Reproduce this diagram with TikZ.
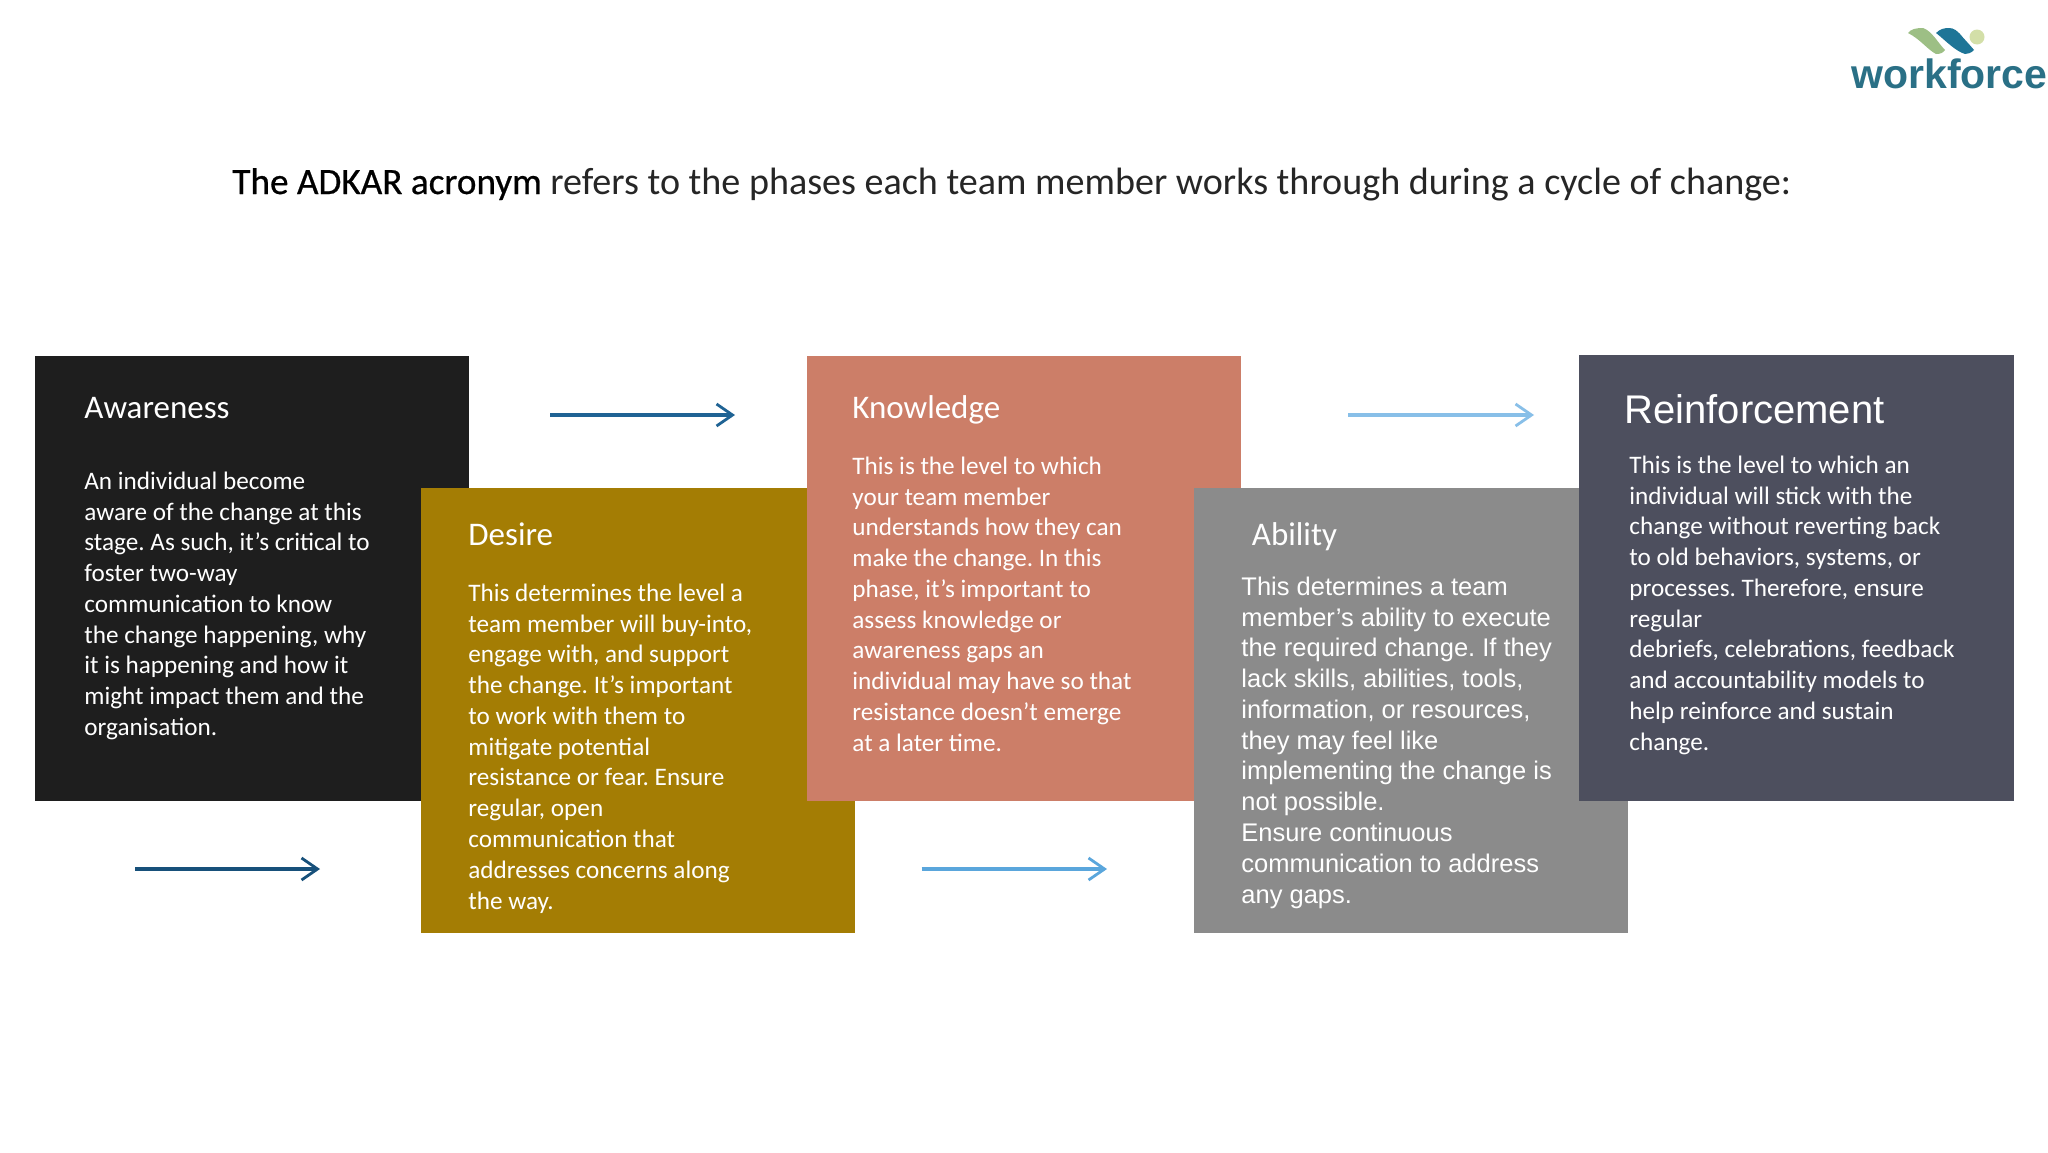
\documentclass[tikz,border=0pt]{standalone}
\usepackage{fontspec}
\setmainfont{Carlito}
\newfontfamily\arialfont{Liberation Sans}
\usetikzlibrary{arrows.meta}
\AtBeginDocument{\frenchspacing}
\definecolor{cdark}{HTML}{1E1E1E}
\definecolor{cgold}{HTML}{A47D04}
\definecolor{csalmon}{HTML}{CC7E68}
\definecolor{cgray}{HTML}{8B8B8B}
\definecolor{cslate}{HTML}{4D4F5E}
\definecolor{aone}{HTML}{1F6394}
\definecolor{atwo}{HTML}{17507A}
\definecolor{athree}{HTML}{5AA6DC}
\definecolor{afour}{HTML}{88BFE8}
\definecolor{logoteal}{HTML}{2A7086}
\definecolor{logoblue}{HTML}{1E7597}
\definecolor{logogreen}{HTML}{9DBF85}
\definecolor{logolime}{HTML}{D3DFA8}
\newcommand{\fl}{\rule{0pt}{12pt}}
\tikzset{
  x=0.5pt,y=-0.5pt,
  panel/.style={anchor=north west,inner sep=0pt,outer sep=0pt,draw=none},
  heading/.style={anchor=base west,inner sep=0pt,text=white,font=\fontsize{16.5}{19}\selectfont},
  body/.style={anchor=north west,inner sep=0pt,align=left,text=white,font=\fontsize{12.6}{15.38}\selectfont},
  bodyarial/.style={anchor=north west,inner sep=0pt,align=left,text=white,font=\arialfont\fontsize{12.75}{15.38}\selectfont},
  flow/.style={line width=1.6pt,-{Straight Barb[length=8pt,width=11pt,line width=1.4pt]}},
}
\begin{document}
\begin{tikzpicture}
\useasboundingbox (0,0) rectangle (2048,1152);
\fill[white] (0,0) rectangle (2048,1152);
% logo
\fill[logogreen] (1908,33) .. controls (1911,29) and (1916,28) .. (1923,28) .. controls (1932,31) and (1938,43) .. (1945,50) .. controls (1943,53) and (1940,54) .. (1936,54) .. controls (1928,50) and (1920,39) .. (1908,33) -- cycle;
\fill[logoblue] (1936,33) .. controls (1940,29) and (1944,28) .. (1949,28) .. controls (1954,28) and (1957,31) .. (1960,34) .. controls (1964,39) and (1970,45) .. (1974,50) .. controls (1971,53) and (1968,54) .. (1965,54) .. controls (1955,51) and (1945,40) .. (1936,33) -- cycle;
\fill[logolime] (1977,37) circle[radius=7.5];
\node[anchor=base west,inner sep=0pt,text=logoteal,font=\arialfont\bfseries\fontsize{20.5}{24}\selectfont] (logo) at (1851,88) {workforce};
% title
\node[anchor=base west,inner sep=0pt,font=\fontsize{18.9}{22}\selectfont] (title) at (232,194) {{\addfontfeatures{FakeBold=0.6}\fontsize{18.6}{22}\selectfont\color{black}The ADKAR acronym} \textcolor{black!85}{\fontsize{19.05}{22}\selectfont refers to the phases each team member works through during a cycle of change:}};
% panels
\node[panel,fill=cdark,minimum width=217pt,minimum height=222.5pt] (awareness) at (35,356) {};
\node[panel,fill=cgold,minimum width=217pt,minimum height=222.75pt] (desire) at (421,487.5) {};
\node[panel,fill=csalmon,minimum width=217pt,minimum height=222.5pt] (knowledge) at (807,356) {};
\node[panel,fill=cgray,minimum width=217pt,minimum height=222.75pt] (ability) at (1194,487.5) {};
\node[panel,fill=cslate,minimum width=217.5pt,minimum height=223pt] (reinforcement) at (1579,355) {};
% headings
\node[heading] (h1) at (84,418) {Awareness};
\node[heading] (h2) at (468,545.5) {Desire};
\node[heading] (h3) at (852,418) {Knowledge};
\node[heading] (h4) at (1251.5,545.5) {Ability};
\node[heading,font=\arialfont\fontsize{20}{24}\selectfont] (h5) at (1624,423.5) {Reinforcement};
% bodies
\node[body] (b1) at (84,465) {\fl An individual become\\aware of the change at this\\stage. As such, it’s critical to\\foster two-way\\communication to know\\the change happening, why\\it is happening and how it\\might impact them and the\\organisation.};
\node[body] (b2) at (468,577) {\fl This determines the level a\\team member will buy-into,\\engage with, and support\\the change. It’s important\\to work with them to\\mitigate potential\\resistance or fear. Ensure\\regular, open\\communication that\\addresses concerns along\\the way.};
\node[body] (b3) at (852,450) {\fl This is the level to which\\your team member\\understands how they can\\make the change. In this\\phase, it’s important to\\assess knowledge or\\awareness gaps an\\individual may have so that\\resistance doesn’t emerge\\at a later time.};
\node[bodyarial] (b4) at (1241,571) {\fl This determines a team\\member’s ability to execute\\the required change. If they\\lack skills, abilities, tools,\\information, or resources,\\they may feel like\\implementing the change is\\not possible.\\Ensure continuous\\communication to address\\any gaps.};
\node[body] (b5) at (1629,449) {\fl This is the level to which an\\individual will stick with the\\change without reverting back\\to old behaviors, systems, or\\processes. Therefore, ensure\\regular\\debriefs, celebrations, feedback\\and accountability models to\\help reinforce and sustain\\change.};
% arrows
\coordinate (a1s) at (550,415); \coordinate (a1e) at (735,415);
\coordinate (a2s) at (135,869); \coordinate (a2e) at (320,869);
\coordinate (a3s) at (921.5,869); \coordinate (a3e) at (1107,869);
\coordinate (a4s) at (1348,415); \coordinate (a4e) at (1534,415);
\draw[flow,aone] (a1s) -- (a1e);
\draw[flow,atwo] (a2s) -- (a2e);
\draw[flow,athree] (a3s) -- (a3e);
\draw[flow,afour] (a4s) -- (a4e);
\end{tikzpicture}
\end{document}
